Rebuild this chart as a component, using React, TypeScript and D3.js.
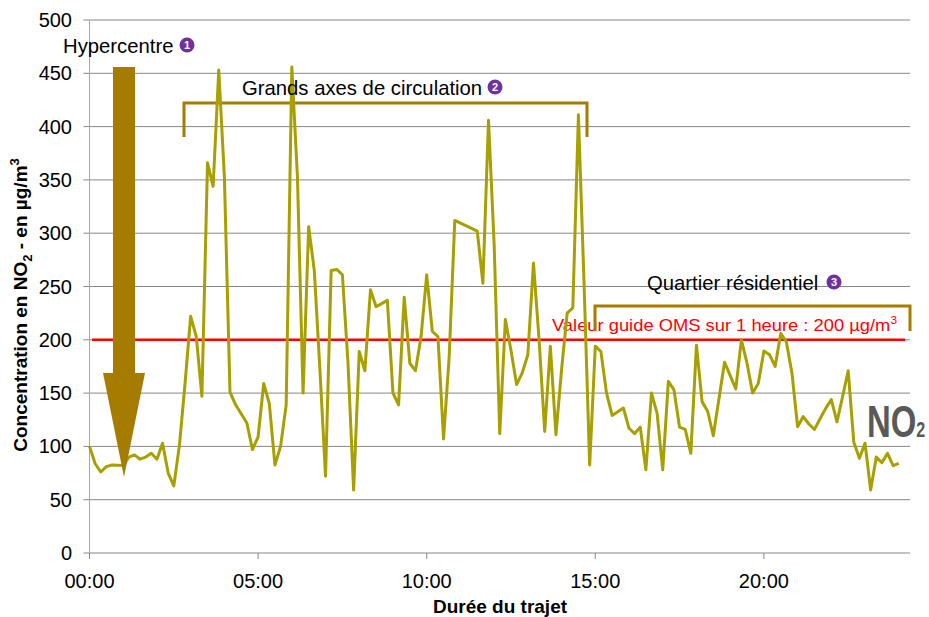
import React from "react";
import * as d3 from "d3";

const sampleIndex = [0,1,2,3,4,6,7,8,9,10,11,12,13,14,15,16,17,18,19,20,21,22,23,24,25,26,28,29,30,31,32,33,34,35,36,37,38,39,40,41,42,43,44,45,46,47,48,49,50,51,53,54,55,56,57,58,59,60,61,62,63,64,65,69,70,71,72,73,74,75,76,77,78,79,80,81,82,83,84,85,86,87,88,89,90,91,92,93,95,96,97,98,99,100,101,102,103,104,105,106,107,108,109,110,111,113,115,116,117,118,119,120,121,122,123,124,125,126,127,128,129,130,131,132,133,134,135,136,137,138,139,140,141,142,143,144];
const no2Values = [100,84,76,81,82.5,82,90,92,88,90,93.5,88,103,75,63,101,159,222,203,147,366,344,453,353,151,139,122,97,109,159,140,82.5,100,139,456,353,150,306,265,172,72,265,266,261,178,59,189,171,247,231,237,150,139,240,178,171,203,261,208,203,107,184,312,302,253,406,290,112,219,190,158,169,186,272,200,114,194,111,172,225,230,411,253,82.5,194,189,150,129,136,117,112,118,78,150,131,78,161,153,118,116,93.5,195,142,133,110,179,154,200,178,150,159,189.5,186,175,206,198,168.6,118.5,128,121,116,126,135.7,144,123,146.6,171,104,88.8,103,59,90,84.7,93.5,82,84];
const SAMPLE_SECONDS = 10;
const xTickSeconds = [0, 300, 600, 900, 1200];
const xTickLabels = ["00:00", "05:00", "10:00", "15:00", "20:00"];
const yTicks = [0, 50, 100, 150, 200, 250, 300, 350, 400, 450, 500];
const guideValue = 200;
const zoneLabels = ["Hypercentre", "Grands axes de circulation", "Quartier résidentiel"];
const zoneNumbers = ["1", "2", "3"];

const W = 929, H = 617;
const L = 89.5, R = 910, T = 20, B = 553;
const FONT = "'Liberation Sans', Arial, sans-serif";
const BROWN = "#a67c00";
const PURPLE = "#7030a0";

function Badge({ cx, cy, n }: { cx: number; cy: number; n: string }) {
  return (
    <g>
      <circle cx={cx} cy={cy} r={7.5} fill={PURPLE} />
      <text x={cx} y={cy + 4} fontSize={11} fontWeight="bold" fill="#fff" textAnchor="middle" fontFamily={FONT}>{n}</text>
    </g>
  );
}

export default function App() {
  const x = d3.scaleLinear().domain([0, 1460]).range([L, R]);
  const y = d3.scaleLinear().domain([0, 500]).range([B, T]);
  const pts = sampleIndex.map((s, i) => [s * SAMPLE_SECONDS, no2Values[i]] as [number, number]);
  const line = d3.line<[number, number]>().x(d => x(d[0])).y(d => y(d[1]));

  return (
    <svg width={W} height={H} style={{ position: "absolute", left: 0, top: 0 }} fontFamily={FONT}>
      <rect width={W} height={H} fill="#fff" />
      {yTicks.map(t => (
        <g key={t}>
          {t > 0 && <line x1={L} x2={R} y1={y(t)} y2={y(t)} stroke="#878787" strokeWidth={1} />}
          <line x1={L - 6} x2={L} y1={y(t)} y2={y(t)} stroke="#878787" strokeWidth={1} />
          <text x={72} y={y(t) + 7} fontSize={20} textAnchor="end" fill="#000">{t}</text>
        </g>
      ))}
      <line x1={L} x2={R} y1={B} y2={B} stroke="#878787" strokeWidth={1} />
      <line x1={L} x2={L} y1={T} y2={B} stroke="#a6a6a6" strokeWidth={1} />
      {xTickSeconds.map((s, i) => (
        <g key={s}>
          <line x1={x(s)} x2={x(s)} y1={B} y2={B + 6} stroke="#878787" strokeWidth={1} />
          <text x={x(s)} y={588} fontSize={20} textAnchor="middle" fill="#000">{xTickLabels[i]}</text>
        </g>
      ))}
      <text x={500} y={613} fontSize={19} fontWeight="bold" textAnchor="middle">Durée du trajet</text>
      <text transform={`translate(27,${305}) rotate(-90)`} fontSize={19} fontWeight="bold" textAnchor="middle">
        Concentration en NO<tspan fontSize={13} dy={5}>2</tspan><tspan dy={-5}> - en µg/m</tspan><tspan fontSize={13} dy={-8}>3</tspan>
      </text>

      {/* guide line */}
      <line x1={92} x2={905} y1={y(guideValue)} y2={y(guideValue)} stroke="#ff0000" strokeWidth={2.5} />
      <text x={552} y={331} fontSize={17} fill="#ff0000" textLength={345} lengthAdjust="spacingAndGlyphs">
        Valeur guide OMS sur 1 heure : {guideValue} µg/m<tspan fontSize={11} dy={-7}>3</tspan>
      </text>

      {/* brackets */}
      <path d="M184,137 V103 H587 V137" fill="none" stroke={BROWN} strokeWidth={3} />
      <path d="M595,331 V306 H910 V331" fill="none" stroke={BROWN} strokeWidth={3} />

      {/* data line */}
      <path d={line(pts) || ""} fill="none" stroke="#a8a000" strokeWidth={3} strokeLinejoin="round" />

      {/* arrow */}
      <polygon points="113,67 135,67 135,373 145,373 124,477 103,373 113,373" fill={BROWN} />

      {/* labels */}
      <text x={63} y={53} fontSize={20.3}>{zoneLabels[0]}</text>
      <Badge cx={187} cy={45} n={zoneNumbers[0]} />
      <text x={242} y={95} fontSize={20.3}>{zoneLabels[1]}</text>
      <Badge cx={495} cy={87} n={zoneNumbers[1]} />
      <text x={647} y={290} fontSize={20.3}>{zoneLabels[2]}</text>
      <Badge cx={834} cy={282} n={zoneNumbers[2]} />

      {/* NO2 logo */}
      <text transform="translate(867,437) scale(0.73,1)" fontSize={45} fontWeight="bold" fill="#595959">
        NO<tspan fontSize={22}>2</tspan>
      </text>
    </svg>
  );
}
